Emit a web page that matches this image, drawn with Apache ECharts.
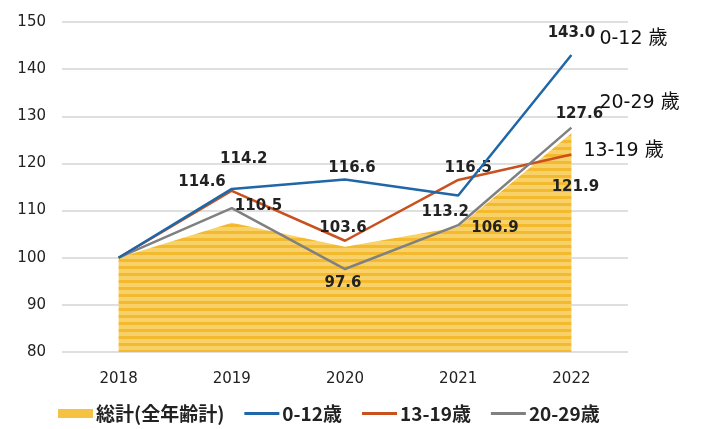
<!DOCTYPE html>
<html>
<head>
<meta charset="utf-8">
<script src="https://cdn.jsdelivr.net/npm/echarts@6/dist/echarts.min.js"></script>
<style>
  html, body { margin: 0; padding: 0; background: #fff; }
  #chart { width: 705px; height: 429px; }
</style>
</head>
<body>
<div id="chart"></div>
<script>
var years = ["2018", "2019", "2020", "2021", "2022"];
var totalAll = [100, 107.4, 102.3, 106.5, 126.4];
var age0to12 = [100, 114.6, 116.6, 113.2, 143.0];
var age13to19 = [100, 114.2, 103.6, 116.5, 121.9];
var age20to29 = [100, 110.5, 97.6, 106.9, 127.6];
var yTicks = { min: 80, max: 150, interval: 10 };

// striped gold fill like the original area
var stripe = document.createElement("canvas");
stripe.width = 4;
stripe.height = 7;
var sc = stripe.getContext("2d");
sc.fillStyle = "#F3BA30";
sc.fillRect(0, 0, 4, 3);
sc.fillStyle = "#F8D168";
sc.fillRect(0, 3, 4, 4);

var font = "DejaVu Sans";
var labelBase = {
  show: true, color: "#222", fontFamily: font, fontSize: 15, fontWeight: "bold",
  formatter: function (p) { return p.value.toFixed(1); }
};

function withLabels(values, specs) {
  return values.map(function (v, i) {
    if (!specs[i]) return { value: v, label: { show: false } };
    return { value: v, label: Object.assign({}, labelBase, specs[i]) };
  });
}

var lineIcon = "path://M0,0 L38,0 L38,3 L0,3 Z";
var endFont = { color: "#111", fontFamily: "'DejaVu Sans', 'Noto Sans CJK JP'", fontSize: 19 };

var myChart = echarts.init(document.getElementById("chart"));
var option = {
  animation: false,
  grid: { left: 62, right: 77, top: 22, bottom: 77 },
  legend: {
    bottom: 1,
    left: 53,
    itemWidth: 35,
    itemHeight: 9,
    itemGap: 20,
    textStyle: { fontFamily: "Noto Sans CJK JP", fontSize: 19, fontWeight: "bold", color: "#222", padding: [0, 0, 0, -2] },
    data: [
      { name: "総計(全年齢計)", icon: "rect" },
      { name: "0-12歳", icon: lineIcon },
      { name: "13-19歳", icon: lineIcon },
      { name: "20-29歳", icon: lineIcon }
    ]
  },
  xAxis: {
    type: "category",
    data: years,
    boundaryGap: true,
    axisLine: { show: false },
    axisTick: { show: false },
    axisLabel: { color: "#222", fontFamily: font, fontSize: 15, margin: 20 }
  },
  yAxis: {
    type: "value",
    min: yTicks.min,
    max: yTicks.max,
    interval: yTicks.interval,
    axisLine: { show: false },
    axisTick: { show: false },
    axisLabel: { color: "#222", fontFamily: font, fontSize: 15, margin: 16 },
    splitLine: { lineStyle: { color: "#D4D4D4", width: 1.5 } }
  },
  series: [
    {
      name: "総計(全年齢計)",
      type: "line",
      data: totalAll,
      symbol: "none",
      color: "#F5C242",
      lineStyle: { width: 0 },
      areaStyle: { origin: "start", opacity: 1, color: { image: stripe, repeat: "repeat" } },
      z: 1
    },
    {
      name: "0-12歳",
      type: "line",
      symbolSize: 0,
      color: "#1F67A8",
      lineStyle: { width: 2.5 },
      data: withLabels(age0to12, [
        null,
        { position: "left", offset: [-1, -7] },
        { position: "top", offset: [7, 1] },
        { position: "bottom", offset: [-13, 4] },
        { position: "top", offset: [0, -9] }
      ]),
      endLabel: Object.assign({ show: true, formatter: "0-12 歲", offset: [20, -16] }, endFont),
      z: 3
    },
    {
      name: "13-19歳",
      type: "line",
      symbolSize: 0,
      color: "#C8511E",
      lineStyle: { width: 2.5 },
      data: withLabels(age13to19, [
        null,
        { position: "top", offset: [12, -19] },
        { position: "top", offset: [-2, 0] },
        { position: "top", offset: [10, 1] },
        { position: "bottom", offset: [4, 20] }
      ]),
      endLabel: Object.assign({ show: true, formatter: "13-19 歲", offset: [4, -3] }, endFont),
      z: 2
    },
    {
      name: "20-29歳",
      type: "line",
      symbolSize: 0,
      color: "#808080",
      lineStyle: { width: 2.5 },
      data: withLabels(age20to29, [
        null,
        { position: "right", offset: [-2, -2] },
        { position: "bottom", offset: [-2, 2] },
        { position: "right", offset: [8, 3] },
        { position: "top", offset: [8, -1] }
      ]),
      endLabel: Object.assign({ show: true, formatter: "20-29 歲", offset: [20, -25] }, endFont),
      z: 2
    }
  ]
};
myChart.setOption(option);
</script>
</body>
</html>
